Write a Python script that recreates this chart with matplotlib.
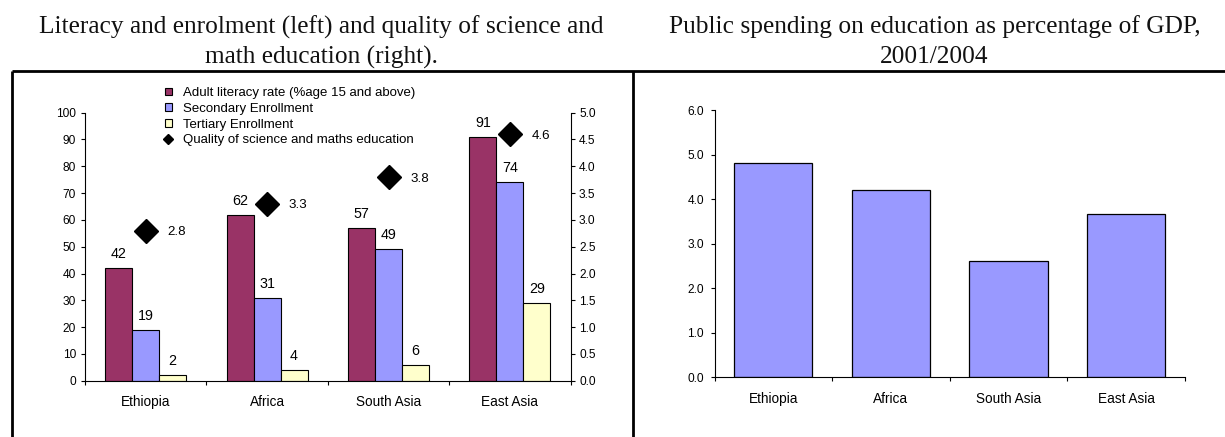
import matplotlib
matplotlib.use("Agg")
import matplotlib.pyplot as plt
import numpy as np
from matplotlib.patches import Patch
from matplotlib.lines import Line2D

plt.rcParams['font.family'] = ['Liberation Sans', 'DejaVu Sans']

# ---- data ----
regions = ["Ethiopia", "Africa", "South Asia", "East Asia"]
adult_literacy = [42, 62, 57, 91]
secondary_enrol = [19, 31, 49, 74]
tertiary_enrol = [2, 4, 6, 29]
quality_sci_math = [2.8, 3.3, 3.8, 4.6]
public_spending = [4.8, 4.2, 2.6, 3.66]

left_yticks = [0, 10, 20, 30, 40, 50, 60, 70, 80, 90, 100]
right_yticks = [0.0, 0.5, 1.0, 1.5, 2.0, 2.5, 3.0, 3.5, 4.0, 4.5, 5.0]
spend_yticks = [0.0, 1.0, 2.0, 3.0, 4.0, 5.0, 6.0]

title_left = ["Literacy and enrolment (left) and quality of science and",
              "math education (right)."]
title_right = ["Public spending on education as percentage of GDP,",
               "2001/2004"]
legend_labels = ["Adult literacy rate (%age 15 and above)",
                 "Secondary Enrollment",
                 "Tertiary Enrollment",
                 "Quality of science and maths education"]

c_lit = "#993366"
c_sec = "#9999FF"
c_ter = "#FFFFCC"

W, H = 1225, 437
fig = plt.figure(figsize=(W / 100, H / 100), dpi=100)

# ---- titles ----
serif = ['Liberation Serif', 'DejaVu Serif']
tfs = 18.3
fig.text(321.7 / W, 1 - 33.3 / H, title_left[0], ha='center', va='baseline',
         family=serif, fontsize=tfs, color='#111111')
fig.text(321.7 / W, 1 - 63.3 / H, title_left[1], ha='center', va='baseline',
         family=serif, fontsize=tfs, color='#111111')
fig.text(934.5 / W, 1 - 33.3 / H, title_right[0], ha='center', va='baseline',
         family=serif, fontsize=tfs, color='#111111')
fig.text(934.5 / W, 1 - 63.3 / H, title_right[1], ha='center', va='baseline',
         family=serif, fontsize=tfs, color='#111111')

# ---- frame lines ----
top_y = 1 - 71 / H
fig.add_artist(Line2D([11.7 / W, 1.0], [top_y, top_y], transform=fig.transFigure,
                      color='black', lw=2.0, solid_capstyle='butt'))
fig.add_artist(Line2D([11.7 / W, 11.7 / W], [0, top_y], transform=fig.transFigure,
                      color='black', lw=2.0, solid_capstyle='butt'))
fig.add_artist(Line2D([633 / W, 633 / W], [0, top_y], transform=fig.transFigure,
                      color='black', lw=2.0, solid_capstyle='butt'))

# ---- left chart ----
axL = fig.add_axes([85 / W, 1 - 380.7 / H, (570.6 - 85) / W, (380.7 - 112.7) / H])
x = np.arange(len(regions))
bw = 0.222
series = [(adult_literacy, c_lit, -bw), (secondary_enrol, c_sec, 0.0),
          (tertiary_enrol, c_ter, bw)]
for vals, col, off in series:
    bars = axL.bar(x + off, vals, width=bw, color=col, edgecolor='black', lw=0.8)
    for b, v in zip(bars, vals):
        axL.annotate(f"{v}", (b.get_x() + b.get_width() / 2, v),
                     xytext=(0, 5), textcoords='offset points',
                     ha='center', va='bottom', fontsize=10.3)

axL.set_xlim(-0.5, len(regions) - 0.5)
axL.set_ylim(0, 100)
axL.set_yticks(left_yticks)
axL.set_yticklabels([str(t) for t in left_yticks])
axL.set_xticks(x)
axL.set_xticklabels(regions, fontsize=9.8)
axL.set_xticks(np.arange(len(regions) + 1) - 0.5, minor=True)
axL.tick_params(axis='x', which='major', length=0, pad=10.5)
axL.tick_params(axis='x', which='minor', length=3.1, width=0.8, direction='out')
axL.tick_params(axis='y', length=3.1, width=0.8, direction='out', pad=3.5, labelsize=8.6)
axL.spines['top'].set_visible(False)
axL.spines['right'].set_visible(False)
for s in ['left', 'bottom']:
    axL.spines[s].set_linewidth(0.8)

axR2 = axL.twinx()
axR2.set_ylim(0, 5)
axR2.set_yticks(right_yticks)
axR2.set_yticklabels([f"{t:.1f}" for t in right_yticks])
axR2.tick_params(axis='y', length=3.1, width=0.8, direction='out', pad=3, labelsize=8.6)
axR2.spines['top'].set_visible(False)
axR2.spines['left'].set_visible(False)
axR2.spines['bottom'].set_visible(False)
axR2.spines['right'].set_linewidth(0.8)
axR2.plot(x, quality_sci_math, linestyle='none', marker='D', markersize=12,
          color='black')
for xi, q in zip(x, quality_sci_math):
    axR2.annotate(f"{q:.1f}", (xi, q), xytext=(15.6, 0), textcoords='offset points',
                  ha='left', va='center_baseline', fontsize=9.6)

handles = [Patch(facecolor=c_lit, edgecolor='black', lw=0.8),
           Patch(facecolor=c_sec, edgecolor='black', lw=0.8),
           Patch(facecolor=c_ter, edgecolor='black', lw=0.8),
           Line2D([], [], linestyle='none', marker='D', markersize=5, color='black')]
fig.legend(handles, legend_labels, loc='upper left',
           bbox_to_anchor=(165 / W, 1 - 87 / H), bbox_transform=fig.transFigure,
           frameon=False, borderpad=0, borderaxespad=0, handlelength=0.5,
           handleheight=0.5, handletextpad=0.85, labelspacing=0.29, fontsize=9.5)

# ---- right chart ----
axS = fig.add_axes([714.5 / W, 1 - 377.3 / H, (1185 - 714.5) / W, (377.3 - 110) / H])
axS.bar(x, public_spending, width=0.665, color=c_sec, edgecolor='black', lw=0.9)
axS.set_xlim(-0.5, len(regions) - 0.5)
axS.set_ylim(0, 6)
axS.set_yticks(spend_yticks)
axS.set_yticklabels([f"{t:.1f}" for t in spend_yticks])
axS.set_xticks(x)
axS.set_xticklabels(regions, fontsize=9.8)
axS.set_xticks(np.arange(len(regions) + 1) - 0.5, minor=True)
axS.tick_params(axis='x', which='major', length=0, pad=10.5)
axS.tick_params(axis='x', which='minor', length=3.1, width=0.8, direction='out')
axS.tick_params(axis='y', length=3.1, width=0.8, direction='out', pad=4.5, labelsize=8.6)
axS.spines['top'].set_visible(False)
axS.spines['right'].set_visible(False)
for s in ['left', 'bottom']:
    axS.spines[s].set_linewidth(0.8)

fig.savefig("out.png", dpi=100)
